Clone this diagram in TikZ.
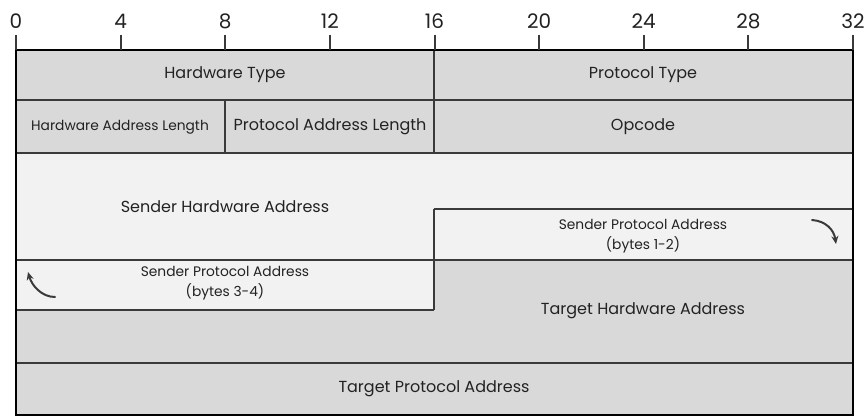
\documentclass[tikz,border=0pt]{standalone}
\usepackage{fontspec}
\setmainfont{Poppins}
\definecolor{fgray}{HTML}{D9D9D9}
\definecolor{flight}{HTML}{F2F2F2}
\definecolor{ink}{HTML}{222222}
\definecolor{rule}{HTML}{3A3A3A}
\usetikzlibrary{arrows.meta}
\tikzset{
  field/.style={font=\fontsize{16}{18}\selectfont, text=ink, inner sep=0pt, align=center},
  smallfield/.style={font=\fontsize{13.8}{20}\selectfont, text=ink, inner sep=0pt, align=center},
  ticklabel/.style={font=\fontsize{20}{22}\selectfont, text=ink, inner sep=0pt},
  divider/.style={draw=rule, line width=1.3pt},
  curvearrow/.style={draw=rule, line width=2pt, -{Stealth[length=8pt,width=7pt]}, line cap=round}
}
\begin{document}
\begin{tikzpicture}[x=1pt,y=-1pt]
\useasboundingbox (0,0) rectangle (867,420);
% fills
\fill[fgray] (16,50) rectangle (853,153);
\fill[flight] (16,153) -- (853,153) -- (853,260) -- (434,260) -- (434,310) -- (16,310) -- cycle;
\fill[fgray] (434,260) -- (853,260) -- (853,415) -- (16,415) -- (16,310) -- (434,310) -- cycle;
% dividers
\draw[divider] (16,100) -- (853,100);
\draw[divider] (16,153) -- (853,153);
\draw[divider] (434,50) -- (434,153);
\draw[divider] (225,100) -- (225,153);
\draw[divider] (434,209) -- (853,209);
\draw[divider] (434,209) -- (434,310);
\draw[divider] (16,260) -- (853,260);
\draw[divider] (16,310) -- (434,310);
\draw[divider] (16,363) -- (853,363);
% outer frame
\draw[black, line width=2pt] (16,50) rectangle (853,415);
% ticks
\foreach \b [count=\i from 0] in {0,4,8,12,16,20,24,28,32} {
  \draw[rule, line width=2pt] ({16+26.156*\b},35) -- ({16+26.156*\b},50);
  \node[ticklabel] (t\i) at ({16+26.156*\b},21) {\b};
}
% field labels
\node[field] (hwtype) at (225,75) {Hardware Type};
\node[field] (prtype) at (643,75) {Protocol Type};
\node[smallfield] (hwlen) at (120,127) {Hardware Address Length};
\node[field] (prlen) at (330,127) {Protocol Address Length};
\node[field] (opcode) at (643,127) {Opcode};
\node[field] (sha) at (225,207) {Sender Hardware Address};
\node[smallfield] (spa12) at (643,236.5) {Sender Protocol Address\\(bytes 1-2)};
\node[smallfield] (spa34) at (225,283.5) {Sender Protocol Address\\(bytes 3-4)};
\node[field] (tha) at (643,311) {Target Hardware Address};
\node[field] (tpa) at (434,389) {Target Protocol Address};
% curved arrows
\coordinate (ra1) at (812,220);
\coordinate (ra2) at (836,244);
\coordinate (la1) at (55,297);
\coordinate (la2) at (28,272);
\draw[curvearrow] (ra1) .. controls (826,221) and (834,230) .. (ra2);
\draw[curvearrow] (la1) .. controls (42,297) and (32,286) .. (la2);
\end{tikzpicture}
\end{document}
